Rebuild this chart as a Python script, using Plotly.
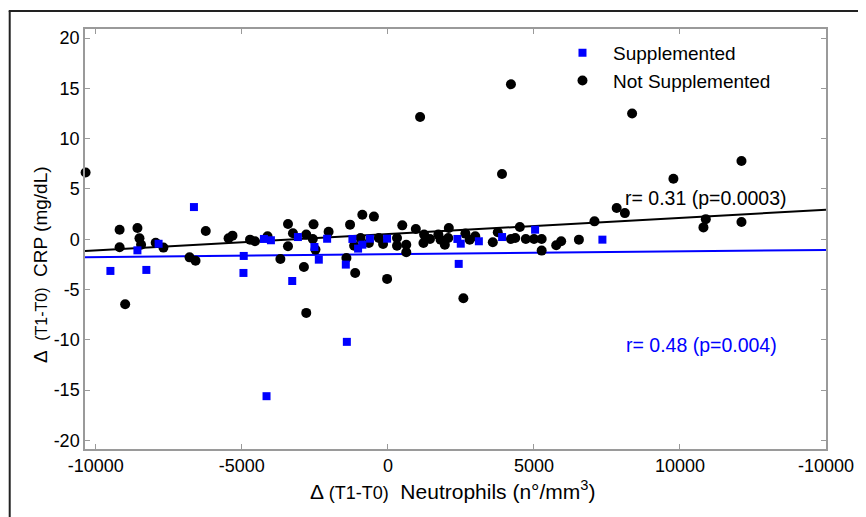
import numpy as np
import plotly.graph_objects as go

# ---- data ----
sup_x = [-6640, -9500, -8575, -8270, -7850, -4935, -4945, -4245, -4005, -4155,
         -3275, -3080, -2515, -2365, -2080, -1440, -1405, -1215, -1020, -875,
         -615, -27, 2380, 2495, 2425, 3115, 3910, 5040, 7345]
sup_y = [3.2, -3.15, -1.1, -3.05, -0.45, -1.66, -3.35, 0.03, -0.1, -15.6,
         -4.15, 0.22, -0.77, -2.03, 0.05, -2.52, -10.2, 0.03, -0.93, -0.54,
         0.06, 0.06, 0.03, -0.44, -2.45, -0.2, 0.22, 0.95, -0.04]

not_x = [-10350, -9185, -9185, -8995, -8575, -8505, -8450, -7950, -7685, -6790,
         -6585, -6235, -5455, -5320, -4720, -4550, -4120, -3680, -3420, -3420,
         -3250, -2875, -2795, -2795, -2545, -2570, -2480, -2030, -1420, -1120,
         -1295, -875, -478, -1155, -935, -650, -310, -165, -27, 312,
         312, 493, 630, 630, 957, 1218, 1240, 1442, 1727, 1805,
         1950, 2087, 2066, 2585, 2653, 2800, 2992, 3592, 3762, 4213,
         4360, 4518, 4722, 5004, 5265, 5265, 5763, 5933, 6540, 7073,
         7833, 8114, 10885, 10804, 12106, 1103, 4213, 3908, 8362, 12106,
         9776]
not_y = [6.64, 0.95, -0.8, -6.46, 1.12, 0.09, -0.54, -0.35, -0.83, -1.8,
         -2.13, 0.82, 0.09, 0.36, -0.04, -0.2, 0.29, -1.96, 1.52, -0.7,
         0.59, -2.75, -7.32, 0.46, 1.48, 0.03, -1.03, 0.75, -1.86, -3.35,
         1.45, 2.44, 2.25, -0.64, 0.13, -0.37, 0.13, -0.47, -3.94, 0.13,
         -0.64, 1.38, -0.54, -1.3, 1.02, -0.37, 0.46, 0.03, 0.46, -0.04,
         -0.54, 1.12, 0.13, -5.87, 0.56, -0.04, 0.29, -0.3, 0.69, 0.03,
         0.13, 1.22, 0.03, 0.03, 0.03, -1.13, -0.6, -0.2, -0.04, 1.78,
         3.1, 2.6, 2.0, 1.18, 1.72, 12.15, 15.4, 6.48, 12.5, 7.78,
         6.02]

# fitted lines (intercept, slope)
not_fit = (0.51, 1.62e-4)
sup_fit = (-1.486, 2.84e-5)

x_range = [-10370, 15000]
y_range = [-20.85, 20.9]

x_tickvals = [-10000, -5000, 0, 5000, 10000, 15000]
x_ticktext = ["-10000", "-5000", "0", "5000", "10000", "-10000"]
y_tickvals = [-20, -15, -10, -5, 0, 5, 10, 15, 20]
y_ticktext = ["-20", "-15", "-10", "-5", "0", "5", "10", "15", "20"]

BLUE = "#0000ff"
FONT = "Liberation Sans, Arial, sans-serif"

fx = np.array(x_range, dtype=float)

fig = go.Figure()
fig.add_trace(go.Scatter(x=fx, y=not_fit[0] + not_fit[1] * fx, mode="lines",
                         line=dict(color="black", width=2), showlegend=False,
                         hoverinfo="skip"))
fig.add_trace(go.Scatter(x=fx, y=sup_fit[0] + sup_fit[1] * fx, mode="lines",
                         line=dict(color=BLUE, width=2), showlegend=False,
                         hoverinfo="skip"))
fig.add_trace(go.Scatter(x=not_x, y=not_y, mode="markers",
                         name="\u00a0\u00a0Not Supplemented", legendrank=2,
                         marker=dict(symbol="circle", size=10, color="black",
                                     line=dict(width=0)), cliponaxis=False))
fig.add_trace(go.Scatter(x=sup_x, y=sup_y, mode="markers",
                         name="\u00a0\u00a0Supplemented", legendrank=1,
                         marker=dict(symbol="square", size=8, color=BLUE,
                                     line=dict(width=0)), cliponaxis=False))

axis_common = dict(showgrid=False, zeroline=False, showline=True,
                   linecolor="#9a9a9a", linewidth=1.5, mirror="ticks",
                   ticks="inside", ticklen=5, tickcolor="#9a9a9a", tickwidth=1.2,
                   tickfont=dict(family=FONT, size=18, color="black"))

fig.update_xaxes(range=x_range, tickvals=x_tickvals, ticktext=x_ticktext,
                 **axis_common)
fig.update_yaxes(range=y_range, tickvals=y_tickvals, ticktext=y_ticktext,
                 **axis_common)

# page body has an 8px margin; figure is sized so it fills the window
OFF = 8
W, H = 866 - OFF, 517 - OFF
L, R, T, B = 85 - OFF, 33, 29 - OFF, 68
pw, ph = W - L - R, H - T - B

def px(xw):
    return (xw - OFF - L) / pw

def py(yw):
    return (H - B - (yw - OFF)) / ph

fig.update_layout(
    width=W, height=H,
    margin=dict(l=L, r=R, t=T, b=B),
    paper_bgcolor="white", plot_bgcolor="white",
    font=dict(family=FONT, size=18, color="black"),
    legend=dict(x=px(567), y=py(34), xanchor="left", yanchor="top",
                traceorder="normal",
                font=dict(family=FONT, size=19, color="black"),
                bgcolor="rgba(0,0,0,0)"),
    showlegend=True,
    annotations=[
        dict(x=10892, y=4.13, xref="x", yref="y", text="r= 0.31 (p=0.0003)",
             showarrow=False, font=dict(family=FONT, size=19.5, color="black")),
        dict(x=10723, y=-10.47, xref="x", yref="y", text="r= 0.48 (p=0.004)",
             showarrow=False, font=dict(family=FONT, size=19.5, color=BLUE)),
        dict(x=px(456), y=py(505), xref="paper", yref="paper",
             text="\u0394 <span style='font-size:18px'>(T1-T0)</span>  Neutrophils (n\u00b0/mm<sup>3</sup>)",
             showarrow=False, font=dict(family=FONT, size=21, color="black")),
        dict(x=px(27), y=py(265), xref="paper", yref="paper", textangle=-90,
             text="\u0394  <span style='font-size:16px'>(T1-T0)</span>  CRP (mg/dL)",
             showarrow=False, font=dict(family=FONT, size=19, color="black")),
    ],
    shapes=[
        dict(type="line", xref="paper", yref="paper",
             x0=px(9), x1=px(9), y0=py(11), y1=py(530),
             line=dict(color="#222222", width=2)),
        dict(type="line", xref="paper", yref="paper",
             x0=px(8), x1=px(880), y0=py(11), y1=py(11),
             line=dict(color="#222222", width=2)),
    ],
)

fig.write_html("out.html")
